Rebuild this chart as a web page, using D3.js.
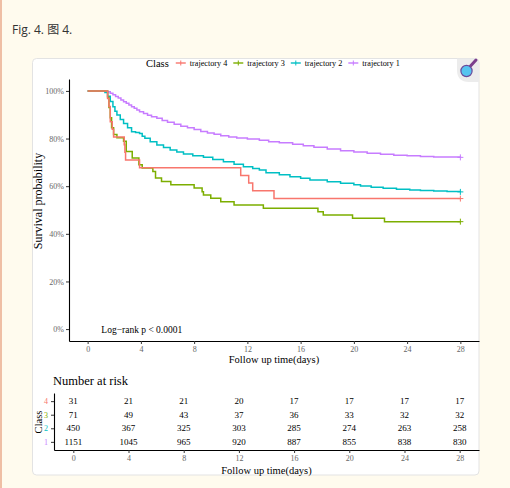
<!DOCTYPE html>
<html>
<head>
<meta charset="utf-8">
<script src="https://cdn.jsdelivr.net/npm/d3@7"></script>
<style>
  body { margin: 0; background: #fffbee; }
  svg { display: block; }
</style>
</head>
<body>
<script>
// ---- data ----
var classes = ["4", "3", "2", "1"];
var classLabels = ["trajectory 4", "trajectory 3", "trajectory 2", "trajectory 1"];
var timeTicks = [0, 4, 8, 12, 16, 20, 24, 28];
var survTicks = [0, 20, 40, 60, 80, 100];

// survival curves: [day, survival %]
var traj1 = [[0,100],[1.3,100],[1.5,99.6],[1.7,99.0],[1.9,98.4],[2.1,97.7],[2.3,97.0],[2.5,96.2],[2.7,95.5],
  [2.9,94.8],[3.1,94.1],[3.3,93.4],[3.5,92.7],[3.7,92.0],[3.9,91.3],[4.2,90.5],[4.5,89.8],[4.8,89.2],[5.2,88.5],
  [5.6,87.6],[6.0,86.8],[6.5,86.0],[7.0,85.2],[7.5,84.5],[8.0,83.8],[8.5,83.0],[9.0,82.3],[9.5,81.8],[10.0,81.2],
  [10.6,80.7],[11.2,80.2],[12.0,79.8],[12.9,79.3],[13.6,78.7],[14.4,78.2],[15.4,77.6],[16.2,77.0],[17.0,76.3],
  [18.0,75.6],[19.0,74.9],[20.0,74.3],[21.0,73.8],[22.0,73.4],[23.0,73.0],[24.0,72.8],[25.0,72.5],[26.0,72.3],
  [27.0,72.2],[28,72.1]];
var traj2 = [[0,100],[1.15,100],[1.3,99.3],[1.5,97.8],[1.7,95.6],[1.9,93.4],[2.05,91.5],[2.2,89.9],[2.45,88.0],
  [2.7,86.3],[3.0,84.5],[3.3,82.9],[3.6,82.5],[3.9,82.1],[4.1,81.0],[4.3,80.1],[4.7,78.7],[5.2,77.3],[5.7,76.2],
  [6.2,75.2],[6.7,74.3],[7.2,73.5],[7.9,72.8],[8.7,72.1],[9.4,71.2],[10.2,70.3],[11.0,69.2],[11.7,68.2],[12.4,67.4],
  [12.9,66.8],[13.4,65.6],[14.4,64.8],[15.2,64.0],[16.0,63.3],[16.7,62.6],[18.0,61.9],[19.0,61.2],[20.0,60.6],
  [20.5,60.1],[21.3,59.6],[22.2,59.1],[23.2,58.7],[24.2,58.4],[25.0,58.2],[26.0,58.0],[27.0,57.8],[28,57.6]];
var traj3 = [[0,100],[1.5,97.2],[1.6,93.0],[1.7,88.7],[1.8,84.5],[1.95,81.7],[2.2,80.3],[2.7,78.9],[2.9,74.6],
  [3.35,71.8],[3.85,69.0],[4.1,67.6],[4.9,66.2],[5.1,63.4],[5.55,62.0],[6.25,60.6],[8.0,59.2],[8.6,57.7],[8.7,56.3],
  [9.25,54.9],[10.0,53.5],[11.0,52.1],[13.2,50.7],[17.3,49.3],[17.7,47.9],[19.9,46.5],[22.3,45.1],[28,45.1]];
var traj4 = [[0,100],[1.5,96.8],[1.6,93.5],[1.7,87.1],[1.85,83.9],[1.95,80.6],[2.75,77.4],[2.8,74.2],[2.85,71.0],
  [3.9,67.7],[11.5,64.5],[12.1,61.3],[12.4,58.1],[14.0,54.8],[28,54.8]];

// number at risk at each time tick
var risk4 = [31, 21, 21, 20, 17, 17, 17, 17];
var risk3 = [71, 49, 43, 37, 36, 33, 32, 32];
var risk2 = [450, 367, 325, 303, 285, 274, 263, 258];
var risk1 = [1151, 1045, 965, 920, 887, 855, 838, 830];

var curves = { "4": traj4, "3": traj3, "2": traj2, "1": traj1 };
var risks = { "4": risk4, "3": risk3, "2": risk2, "1": risk1 };

var color = d3.scaleOrdinal()
  .domain(["4", "3", "2", "1"])
  .range(["#F8766D", "#7CAE00", "#00BFC4", "#C77CFF"]);

var serif = "'Liberation Serif', 'DejaVu Serif', serif";

var svg = d3.select("body").append("svg")
  .attr("width", 510)
  .attr("height", 488);

// page decoration
svg.append("rect").attr("x", 0).attr("y", 0).attr("width", 2).attr("height", 488).attr("fill", "#efbfa5");
svg.append("text")
  .attr("x", 12).attr("y", 34)
  .style("font-family", "'Open Sans', 'Noto Sans CJK SC', sans-serif")
  .style("font-size", "12px")
  .attr("fill", "#333")
  .text("Fig. 4. 图 4.");

svg.append("rect")
  .attr("x", 32.5).attr("y", 58.5)
  .attr("width", 446.5).attr("height", 416.5)
  .attr("rx", 4)
  .attr("fill", "#fff")
  .attr("stroke", "#e3e3e3");

// ---- survival plot ----
var x = d3.scaleLinear().domain([-1.4, 29.4]).range([69, 479]);
var y = d3.scaleLinear().domain([-5, 105]).range([341, 79]);

var line = d3.line()
  .curve(d3.curveStepAfter)
  .x(function(d) { return x(d[0]); })
  .y(function(d) { return y(d[1]); });

// draw trajectory 1 first so the smaller groups sit on top
classes.slice().reverse().forEach(function(c) {
  svg.append("path")
    .datum(curves[c])
    .attr("fill", "none")
    .attr("stroke", color(c))
    .attr("stroke-width", 1.5)
    .attr("d", line);
  var last = curves[c][curves[c].length - 1];
  svg.append("path")
    .attr("d", "M" + (x(last[0]) - 3) + "," + y(last[1]) + "h6M" + x(last[0]) + "," + (y(last[1]) - 3) + "v6")
    .attr("stroke", color(c))
    .attr("stroke-width", 1);
});

function styleAxis(g) {
  g.select(".domain").attr("stroke", "#000").attr("stroke-width", 1.1);
  g.selectAll(".tick line").attr("stroke", "#333");
  g.selectAll(".tick text")
    .attr("fill", "#666")
    .style("font-family", serif)
    .style("font-size", "8px");
}

svg.append("g")
  .attr("transform", "translate(69,0)")
  .call(d3.axisLeft(y).tickValues(survTicks).tickSize(3).tickSizeOuter(0).tickPadding(2)
    .tickFormat(function(d) { return d + "%"; }))
  .call(styleAxis);

svg.append("g")
  .attr("transform", "translate(0,341)")
  .call(d3.axisBottom(x).tickValues(timeTicks).tickSize(3).tickSizeOuter(0).tickPadding(2))
  .call(styleAxis);

svg.append("text")
  .attr("transform", "translate(41.5,201) rotate(-90)")
  .style("text-anchor", "middle")
  .style("font-family", serif)
  .style("font-size", "12px")
  .text("Survival probability");

svg.append("text")
  .attr("x", 274).attr("y", 363)
  .style("text-anchor", "middle")
  .style("font-family", serif)
  .style("font-size", "10.5px")
  .text("Follow up time(days)");

svg.append("text")
  .attr("x", x(1.03)).attr("y", y(0) + 3.5)
  .style("font-family", serif)
  .style("font-size", "9.5px")
  .text("Log\u2212rank p < 0.0001");

// legend
var legend = svg.append("g").attr("transform", "translate(0,63)");
var lx = 146;
var title = legend.append("text")
  .attr("x", lx).attr("y", 3.5)
  .style("font-family", serif)
  .style("font-size", "10.5px")
  .text("Class");
lx += title.node().getComputedTextLength() + 7;
classes.forEach(function(c, i) {
  legend.append("line")
    .attr("x1", lx).attr("x2", lx + 10).attr("y1", 0).attr("y2", 0)
    .attr("stroke", color(c)).attr("stroke-width", 1.4);
  legend.append("line")
    .attr("x1", lx + 5).attr("x2", lx + 5).attr("y1", -2.5).attr("y2", 2.5)
    .attr("stroke", color(c)).attr("stroke-width", 1);
  var t = legend.append("text")
    .attr("x", lx + 14).attr("y", 3)
    .style("font-family", serif)
    .style("font-size", "8.2px")
    .text(classLabels[i]);
  lx += 14 + t.node().getComputedTextLength() + 6;
});

// magnifier icon in the card corner
var icon = svg.append("g");
icon.append("path")
  .attr("d", "M457,58.5 H475 Q479,58.5 479,62.5 V82 H469 Q457,82 457,70 Z")
  .attr("fill", "#ececec");
icon.append("line")
  .attr("x1", 470.5).attr("y1", 66).attr("x2", 476).attr("y2", 60)
  .attr("stroke", "#7b3f8c").attr("stroke-width", 3).attr("stroke-linecap", "round");
icon.append("circle")
  .attr("cx", 466.5).attr("cy", 71).attr("r", 5.6)
  .attr("fill", "#56c4ef").attr("stroke", "#6a4b9c").attr("stroke-width", 1.2);

// ---- risk table ----
var xr = d3.scaleLinear().domain([-1.4, 29.4]).range([54, 479]);
var yr = d3.scaleLinear().domain([0.4, 4.6]).range([450, 393]);

svg.append("text")
  .attr("x", 53).attr("y", 384.5)
  .style("font-family", serif)
  .style("font-size", "12.5px")
  .text("Number at risk");

classes.forEach(function(c) {
  svg.append("g")
    .selectAll("text")
    .data(risks[c])
    .enter().append("text")
      .attr("x", function(d, i) { return xr(timeTicks[i]); })
      .attr("y", yr(+c) + 3)
      .style("text-anchor", "middle")
      .style("font-family", serif)
      .style("font-size", "9px")
      .text(function(d) { return d; });
});

var riskY = svg.append("g")
  .attr("transform", "translate(54,0)")
  .call(d3.axisLeft(yr).tickValues([1, 2, 3, 4]).tickSize(3).tickSizeOuter(0).tickPadding(3)
    .tickFormat(function(d) { return d; }))
  .call(styleAxis);
riskY.selectAll(".tick text").attr("fill", function(d) { return color(String(d)); });

svg.append("g")
  .attr("transform", "translate(0,450)")
  .call(d3.axisBottom(xr).tickValues(timeTicks).tickSize(3).tickSizeOuter(0).tickPadding(2))
  .call(styleAxis);

svg.append("text")
  .attr("transform", "translate(41.5,422) rotate(-90)")
  .style("text-anchor", "middle")
  .style("font-family", serif)
  .style("font-size", "10.5px")
  .text("Class");

svg.append("text")
  .attr("x", 266.5).attr("y", 473.5)
  .style("text-anchor", "middle")
  .style("font-family", serif)
  .style("font-size", "10.5px")
  .text("Follow up time(days)");
</script>
</body>
</html>
